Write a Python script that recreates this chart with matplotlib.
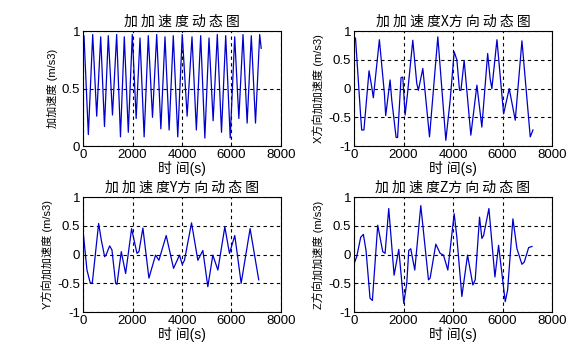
import matplotlib.pyplot as plt

# values (vertices of each trace)
t_jerk = [0, 40, 216, 392, 554, 715, 868, 1022, 1191, 1360, 1514, 1669, 1830, 1992,
          2148, 2303, 2470, 2638, 2808, 2978, 3146, 3313, 3480, 3648, 3829, 4010,
          4207, 4404, 4580, 4755, 4923, 5091, 5258, 5426, 5596, 5766, 5948, 6129,
          6297, 6465, 6632, 6800, 6970, 7139, 7200]
a_jerk = [0.85, 0.96, 0.10, 0.97, 0.26, 0.95, 0.17, 0.96, 0.27, 0.97, 0.08, 0.95,
          0.12, 0.97, 0.24, 0.94, 0.08, 0.96, 0.25, 0.97, 0.15, 0.95, 0.14, 0.96,
          0.08, 0.97, 0.26, 0.95, 0.14, 0.96, 0.07, 0.94, 0.22, 0.97, 0.12, 0.96,
          0.07, 0.95, 0.24, 0.97, 0.20, 0.96, 0.20, 0.97, 0.85]

t_x = [0, 60, 270, 310, 400, 607, 715, 780, 1025, 1228, 1280, 1457, 1525, 1700,
       1760, 1900, 1970, 2065, 2160, 2375, 2535, 2600, 2780, 3050, 3386, 3710,
       3885, 4047, 4155, 4263, 4320, 4450, 4720, 4965, 5165, 5400, 5500, 5570,
       5775, 5910, 6045, 6270, 6515, 6785, 7120, 7230]
a_x = [0.80, 0.88, -0.49, -0.72, -0.72, 0.31, 0.03, -0.16, 0.85, -0.09, -0.47,
       0.15, -0.20, -0.85, -0.85, 0.19, 0.20, -0.46, -0.09, 0.84, 0.09, -0.03,
       0.35, -0.84, 0.90, -0.90, -0.20, 0.64, 0.50, -0.03, -0.03, 0.49, -0.81,
       0.06, -0.67, 0.61, 0.17, 0.00, 0.85, 0.20, -0.44, 0.00, -0.55, 0.83,
       -0.84, -0.72]

t_y = [0, 160, 296, 377, 632, 740, 875, 940, 1076, 1170, 1318, 1372, 1547, 1722,
       1964, 2180, 2260, 2420, 2663, 2932, 3067, 3362, 3658, 3900, 4008, 4100,
       4385, 4640, 4842, 5044, 5245, 5450, 5730, 5918, 6133, 6390, 6752, 7100]
a_y = [0.42, -0.27, -0.50, -0.49, 0.54, 0.25, -0.04, 0.00, 0.15, 0.08, -0.50,
       -0.52, 0.05, -0.33, 0.45, 0.02, 0.05, 0.46, -0.41, -0.01, -0.10, 0.33,
       -0.24, -0.01, -0.17, -0.10, 0.55, -0.10, 0.07, -0.56, -0.01, -0.27, 0.48,
       0.02, 0.33, -0.50, 0.45, -0.44]

t_z = [0, 108, 270, 378, 485, 647, 742, 958, 1160, 1255, 1403, 1619, 1808, 2010,
       2131, 2212, 2293, 2455, 2698, 3008, 3075, 3305, 3480, 3615, 3790, 4047,
       4155, 4357, 4587, 4802, 4897, 5072, 5166, 5235, 5450, 5693, 5841, 6110,
       6205, 6420, 6583, 6785, 6880, 7055, 7190]
a_z = [-0.16, -0.04, 0.30, 0.35, 0.07, -0.76, -0.80, 0.51, 0.05, 0.02, 0.80,
       -0.36, 0.09, -0.85, -0.50, 0.07, 0.10, -0.27, 0.85, -0.44, -0.41, 0.18,
       0.02, -0.01, -0.27, 0.71, 0.30, -0.73, -0.01, -0.53, -0.44, 0.65, 0.28,
       0.33, 0.80, -0.39, 0.16, -0.82, -0.62, 0.62, 0.10, -0.17, -0.13, 0.12,
       0.14]

titles = ['加 加 速 度 动 态 图', '加 加 速 度X方 向 动 态 图',
          '加 加 速 度Y方 向 动 态 图', '加 加 速 度Z方 向 动 态 图']
ylabels = ['加加速度 (m/s3)', 'X方向加加速度 (m/s3)', 'Y方向加加速度 (m/s3)', 'Z方向加加速度 (m/s3)']
series = [(t_jerk, a_jerk), (t_x, a_x), (t_y, a_y), (t_z, a_z)]
xticks = [0, 2000, 4000, 6000, 8000]

plt.rcParams['font.family'] = ['Liberation Sans', 'Noto Sans CJK SC']

fig = plt.figure(figsize=(5.87, 3.52), dpi=100)
boxes = [(0.1414, 0.585), (0.6031, 0.585), (0.1414, 0.1136), (0.6031, 0.1136)]

for i, (t, a) in enumerate(series):
    ax = fig.add_axes([boxes[i][0], boxes[i][1], 0.3373, 0.3267])
    ax.plot(t, a, color='#0000cc', lw=0.9)
    ax.set_xlim(0, 8000)
    ax.set_xticks(xticks)
    if i == 0:
        ax.set_ylim(0, 1)
        ax.set_yticks([0, 0.5, 1])
        ax.set_yticklabels(['0', '0.5', '1'])
    else:
        ax.set_ylim(-1, 1)
        ax.set_yticks([-1, -0.5, 0, 0.5, 1])
        ax.set_yticklabels(['-1', '-0.5', '0', '0.5', '1'])
    ax.grid(True, color='black', linestyle=(0, (3, 3)), lw=0.8)
    ax.tick_params(direction='in', length=3, width=0.6, labelsize=9.5, pad=2)
    for s in ax.spines.values():
        s.set_linewidth(0.8)
    ax.set_title(titles[i], fontsize=10, pad=4, family=['Noto Sans CJK SC'])
    ax.set_xlabel('时 间(s)', fontsize=10, labelpad=0)
    ax.set_ylabel(ylabels[i], fontsize=8, labelpad=3)

fig.savefig('out.png', dpi=100)
